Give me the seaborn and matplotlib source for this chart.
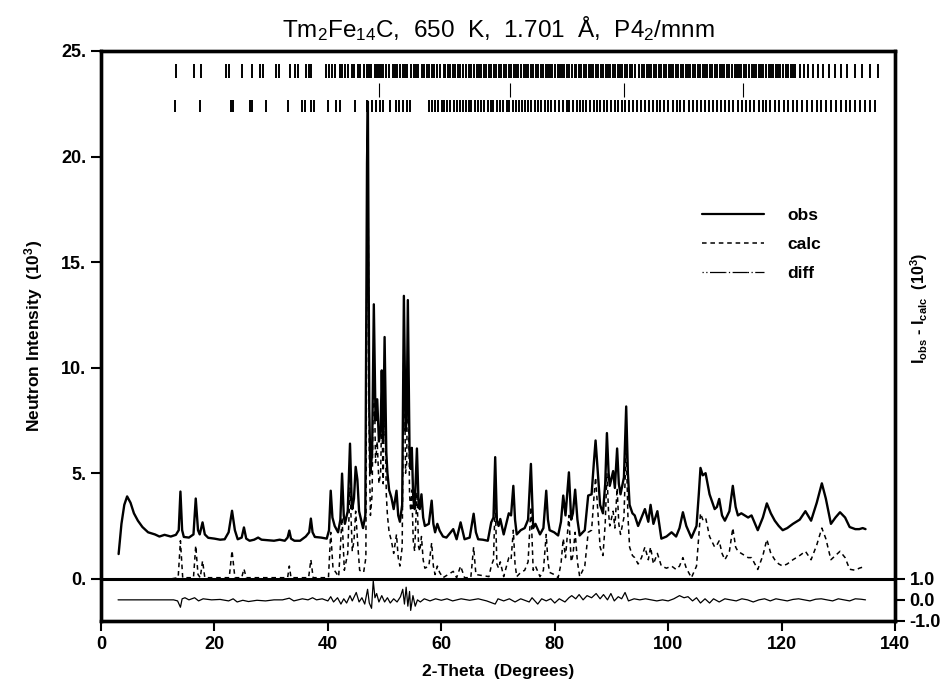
# import all modules
import numpy as np
import pandas as pd
import seaborn as sns
import matplotlib.pyplot as plt
from matplotlib.lines import Line2D

# observed pattern (2-theta, intensity in 10^3 counts)
obs_x = [3.1, 3.6, 4.1, 4.6, 5.2, 5.8, 6.5, 7.3, 8.3, 9.5, 10.3, 11.2, 12.3, 13.2, 13.7, 14.0, 14.3, 14.6,
         15.5, 16.3, 16.7, 17.1, 17.4, 17.9, 18.3, 18.9, 20.0, 21.0, 21.8, 22.5, 23.1, 23.6, 24.1, 24.8,
         25.2, 25.6, 26.2, 27.0, 27.7, 28.3, 29.5, 30.5, 31.5, 32.4, 32.9, 33.2, 33.5, 34.1, 35.1, 36.1,
         36.7, 37.0, 37.3, 37.7, 38.8, 39.8, 40.2, 40.5, 40.8, 41.2, 41.8, 42.2, 42.5, 42.8, 43.0, 43.5,
         43.9, 44.2, 44.3, 44.6, 44.9, 45.2, 45.5, 46.2, 46.6, 46.9, 47.05, 47.3, 47.5, 47.8, 48.1, 48.4,
         48.7, 49.0, 49.3, 49.5, 49.75, 50.0, 50.3, 50.5, 50.8, 51.2, 51.6, 52.1, 52.4, 52.7, 53.1, 53.4,
         53.7, 53.9, 54.1, 54.4, 54.6, 54.8, 55.05, 55.3, 55.7, 56.0, 56.2, 56.5, 56.8, 57.1, 57.8, 58.3,
         58.6, 58.9, 59.3, 59.7, 60.3, 60.9, 62.1, 62.7, 63.4, 64.1, 65.0, 65.7, 66.1, 66.5, 67.3, 68.2,
         68.8, 69.2, 69.5, 69.8, 70.1, 70.4, 71.0, 71.9, 72.3, 72.7, 73.0, 73.3, 74.0, 74.7, 75.3, 75.8,
         76.2, 76.6, 77.4, 78.0, 78.5, 78.8, 79.1, 79.9, 80.6, 81.1, 81.5, 81.9, 82.5, 82.9, 83.2, 83.6,
         84.0, 84.4, 85.3, 85.9, 86.5, 86.9, 87.2, 87.6, 88.0, 88.5, 88.9, 89.2, 89.5, 89.7, 90.3, 90.6,
         91.0, 91.3, 91.6, 92.2, 92.6, 92.9, 93.2, 93.7, 94.1, 94.7, 95.3, 95.9, 96.5, 96.9, 97.4, 98.1,
         98.8, 99.7, 100.6, 101.4, 102.0, 102.6, 103.2, 104.1, 105.0, 105.4, 105.7, 106.1, 106.6, 107.3,
         108.2, 108.6, 109.0, 109.5, 110.0, 110.8, 111.4, 111.9, 112.3, 112.9, 113.5, 114.1, 114.7, 115.8,
         116.7, 117.4, 118.1, 118.8, 119.5, 120.2, 121.0, 122.0, 123.2, 124.2, 125.2, 126.2, 127.1, 127.8,
         128.7, 129.5, 130.3, 131.2, 132.0, 133.0, 133.7, 134.3, 134.8]
obs_y = [1.17, 2.6, 3.5, 3.9, 3.6, 3.1, 2.75, 2.45, 2.2, 2.1, 2.0, 2.08, 2.0, 2.08, 2.3, 4.13, 2.3, 1.98,
         1.95, 2.1, 3.8, 2.3, 2.1, 2.67, 2.1, 1.94, 1.9, 1.85, 1.87, 2.2, 3.22, 2.3, 1.87, 1.95,
         2.43, 1.9, 1.8, 1.85, 1.95, 1.85, 1.82, 1.8, 1.85, 1.8, 1.95, 2.28, 1.9, 1.8, 1.8, 2.0,
         2.2, 2.85, 2.2, 1.98, 1.95, 1.9, 2.3, 4.17, 2.9, 2.5, 2.2, 2.8, 4.98, 3.0, 2.6, 3.2,
         6.4, 3.6, 3.3, 3.8, 5.3, 4.7, 3.2, 2.4, 3.0, 19.7, 22.6, 8.0, 5.0, 6.0, 13.0, 7.5,
         8.5, 6.5, 7.0, 9.87, 6.5, 11.45, 6.0, 5.0, 4.2, 3.85, 3.3, 4.17, 3.0, 2.7, 3.5, 13.4,
         7.0, 7.5, 13.2, 6.0, 5.2, 6.2, 3.8, 3.3, 6.17, 3.5, 3.3, 4.0, 2.9, 2.5, 2.6, 3.7,
         2.6, 2.2, 2.6, 2.28, 2.0, 1.95, 2.35, 1.87, 2.67, 1.87, 1.95, 3.08, 2.2, 1.87, 1.85, 1.8,
         2.67, 2.9, 5.76, 2.75, 2.5, 2.83, 2.1, 3.1, 3.0, 4.4, 2.8, 2.1, 2.3, 2.4, 2.8, 5.44,
         2.4, 2.6, 2.1, 2.4, 4.17, 2.8, 2.3, 2.2, 2.05, 2.7, 3.94, 3.0, 5.04, 2.8, 3.1, 4.22,
         2.8, 2.05, 2.3, 3.94, 4.0, 5.5, 6.55, 5.0, 3.5, 3.1, 4.5, 6.9, 5.0, 4.4, 5.1, 4.3,
         6.17, 4.5, 4.0, 4.8, 8.16, 5.0, 3.5, 3.1, 3.0, 2.5, 2.9, 3.3, 2.7, 3.5, 2.6, 3.2,
         1.9, 2.0, 2.2, 2.0, 2.4, 3.15, 2.5, 1.94, 2.5, 4.0, 5.25, 4.9, 5.0, 4.0,
         3.3, 3.4, 3.78, 3.0, 2.75, 3.2, 4.4, 3.4, 3.0, 3.1, 3.0, 2.9, 3.0, 2.3,
         2.9, 3.57, 3.1, 2.75, 2.5, 2.3, 2.4, 2.6, 2.8, 3.2, 2.75, 3.6, 4.52, 3.8,
         2.6, 2.9, 3.15, 2.9, 2.45, 2.35, 2.35, 2.4, 2.35]

# calculated pattern
calc_x = [12.5, 13.6, 14.0, 14.4, 16.3, 16.7, 17.1, 17.5, 17.9, 18.3, 22.6, 23.1, 23.6, 24.8, 25.2, 25.6,
          32.9, 33.2, 33.5, 36.6, 37.0, 37.4, 40.1, 40.5, 40.9, 41.9, 42.5, 42.9, 43.5, 43.9, 44.3, 44.6,
          44.9, 45.3, 45.6, 46.3, 46.7, 46.9, 47.05, 47.3, 47.5, 47.8, 48.1, 48.4, 48.7, 49.0, 49.3, 49.5,
          49.75, 50.0, 50.3, 50.5, 50.8, 51.2, 51.6, 52.1, 52.4, 52.7, 53.1, 53.4, 53.7, 53.9, 54.1, 54.4,
          54.6, 54.8, 55.05, 55.3, 55.7, 56.0, 56.2, 56.5, 56.8, 57.1, 57.8, 58.3, 58.6, 58.9, 59.3, 59.7,
          60.3, 62.1, 62.7, 63.4, 64.1, 65.2, 65.7, 66.1, 68.4, 68.8, 69.2, 69.5, 69.8, 70.1, 70.4, 71.0,
          71.9, 72.3, 72.7, 73.0, 73.3, 74.0, 74.7, 75.3, 75.8, 76.2, 76.6, 77.4, 78.0, 78.5, 78.8, 79.1,
          79.9, 80.6, 81.1, 81.5, 81.9, 82.5, 82.9, 83.2, 83.6, 84.0, 84.4, 85.3, 85.9, 86.5, 86.9, 87.2,
          87.6, 88.0, 88.5, 88.9, 89.2, 89.5, 89.7, 90.3, 90.6, 91.0, 91.3, 91.6, 92.2, 92.6, 92.9, 93.2,
          93.7, 94.1, 94.7, 95.3, 95.9, 96.5, 96.9, 97.4, 98.1, 98.8, 99.7, 100.6, 101.4, 102.0, 102.6, 103.2,
          104.1, 105.0, 105.4, 105.7, 106.1, 106.6, 107.3, 108.2, 108.6, 109.0, 109.5, 110.0, 110.8, 111.4,
          111.9, 112.3, 112.9, 113.5, 114.1, 114.7, 115.8, 116.7, 117.4, 118.1, 118.8, 119.5, 120.2, 121.0,
          122.0, 122.6, 123.2, 124.2, 125.2, 126.2, 127.1, 127.8, 128.7, 129.5, 130.3, 131.2, 132.0, 133.0,
          133.7, 134.3, 134.8]
calc_y = [0.0, 0.05, 1.8, 0.05, 0.05, 1.57, 0.2, 0.05, 0.85, 0.05, 0.05, 1.33, 0.05, 0.05, 0.47, 0.05,
          0.05, 0.6, 0.05, 0.05, 0.9, 0.05, 0.05, 2.2, 0.5, 0.1, 2.9, 0.4, 1.2, 4.3, 1.3, 1.8,
          3.2, 1.5, 0.4, 0.3, 1.0, 17.5, 20.8, 6.0, 3.0, 4.0, 11.0, 5.5, 6.5, 4.5, 5.0, 8.0,
          4.5, 9.6, 4.0, 3.0, 2.2, 1.8, 1.2, 2.1, 1.0, 0.6, 1.5, 11.5, 5.0, 5.5, 11.2, 4.0,
          3.2, 4.2, 1.8, 1.3, 4.1, 1.5, 1.3, 2.0, 0.9, 0.5, 0.6, 1.7, 0.6, 0.2, 0.6, 0.3,
          0.05, 0.35, 0.05, 0.6, 0.05, 0.05, 1.5, 0.2, 0.1, 0.6, 0.9, 3.7, 0.7, 0.5, 0.8, 0.1,
          1.0, 0.9, 2.3, 0.7, 0.1, 0.3, 0.4, 0.8, 3.4, 0.4, 0.6, 0.1, 0.4, 2.1, 0.8, 0.3,
          0.2, 0.05, 0.7, 1.9, 1.0, 3.0, 0.8, 1.1, 2.2, 0.8, 0.1, 0.6, 2.2, 2.3, 3.8, 4.8,
          3.2, 1.5, 1.1, 2.6, 5.0, 3.1, 2.5, 3.2, 2.4, 4.3, 2.6, 2.1, 2.9, 6.3, 3.0, 1.5,
          1.1, 1.0, 0.7, 1.0, 1.5, 0.9, 1.5, 0.7, 1.2, 0.6, 0.5, 0.6, 0.44, 0.6, 1.0, 0.5,
          0.05, 0.6, 2.0, 3.1, 2.8, 2.9, 2.0, 1.5, 1.6, 1.8, 1.2, 0.9, 1.3, 2.4,
          1.5, 1.3, 1.2, 1.1, 1.0, 1.0, 0.44, 1.1, 1.86, 1.2, 0.9, 0.7, 0.6, 0.7,
          0.9, 1.0, 1.1, 1.3, 0.9, 1.6, 2.4, 1.9, 0.9, 1.1, 1.3, 1.0, 0.45, 0.4,
          0.5, 0.55, 0.55]

# difference obs - calc (right axis)
diff_x = [3.0, 12.8, 13.5, 14.0, 14.3, 14.8, 15.5, 16.5, 17.2, 18.0, 19.5, 21.0, 22.5, 23.3, 24.0, 25.0,
          26.0, 27.5, 29.0, 30.5, 32.0, 33.2, 34.0, 35.5, 36.5, 37.3, 38.0, 39.0, 40.0, 40.5, 41.0, 41.7,
          42.3, 42.8, 43.3, 43.9, 44.3, 45.0, 45.5, 46.0, 46.5, 47.0, 47.3, 47.7, 48.0, 48.3, 48.6, 49.0,
          49.5, 50.0, 50.5, 51.0, 51.6, 52.2, 52.8, 53.2, 53.5, 53.8, 54.1, 54.4, 54.6, 55.0, 55.4, 55.8,
          56.3, 57.0, 58.0, 59.0, 60.0, 61.0, 62.0, 63.5, 65.0, 66.5, 68.0, 69.5, 70.0, 71.0, 72.0, 73.0,
          74.0, 75.5, 76.0, 77.0, 77.7, 78.5, 79.3, 80.0, 80.8, 81.8, 82.5, 83.0, 83.7, 84.3, 85.0, 85.7,
          86.5, 87.3, 88.0, 88.6, 89.3, 89.9, 90.5, 91.2, 91.8, 92.4, 93.0, 94.0, 95.0, 96.0, 97.0, 98.0,
          99.0, 100.0, 101.0, 102.0, 102.8, 103.5, 104.3, 105.0, 105.7, 106.5, 107.3, 108.0, 109.0, 110.0,
          111.0, 112.0, 113.0, 114.0, 115.0, 116.0, 117.0, 118.0, 119.0, 120.0, 121.0, 122.0, 123.0, 124.0,
          125.0, 126.0, 127.0, 128.0, 129.0, 130.0, 131.0, 132.0, 133.0, 134.0, 134.8]
diff_y = [0.0, 0.0, -0.05, -0.35, 0.05, 0.1, 0.0, 0.1, -0.05, 0.05, 0.0, 0.02, -0.05, 0.05, -0.1, -0.02,
          -0.08, -0.02, -0.05, 0.0, 0.0, 0.08, -0.05, 0.05, 0.0, 0.1, 0.0, 0.05, -0.05, 0.15, -0.1, 0.1,
          -0.2, 0.05, -0.15, 0.2, -0.05, 0.35, -0.1, 0.1, -0.2, 0.5, -0.15, -0.4, 0.9, 0.1, 0.3, -0.1,
          0.2, -0.1, 0.1, -0.15, 0.05, -0.1, 0.15, 0.5, -0.2, 0.6, -0.3, 0.4, -0.5, 0.2, -0.3, 0.0,
          -0.1, 0.05, -0.05, 0.05, -0.02, 0.05, -0.05, 0.05, -0.02, 0.05, -0.05, -0.2, 0.05, -0.05, 0.05, -0.1,
          0.05, -0.1, 0.1, -0.2, 0.05, -0.05, 0.05, -0.15, 0.05, -0.1, 0.1, 0.2, 0.05, 0.25, 0.0, 0.2,
          0.1, 0.3, 0.05, 0.25, 0.0, 0.3, -0.05, 0.15, 0.05, 0.35, -0.05, 0.05, 0.0, 0.05, 0.0, -0.05,
          0.0, -0.05, 0.05, 0.2, 0.1, 0.15, -0.05, 0.1, -0.15, 0.05, -0.15, 0.05, -0.1, 0.05,
          0.0, -0.05, 0.05, 0.0, -0.1, 0.0, 0.05, -0.05, 0.05, 0.0, -0.05, 0.02, 0.05, 0.0,
          -0.05, 0.03, 0.05, 0.0, -0.05, 0.05, 0.0, -0.05, 0.05, 0.03, 0.0]

# reflection markers, two phases
refl_1 = [13.3, 16.4, 17.6, 22.1, 22.6, 24.8, 26.6, 28.0, 28.6, 30.8, 31.4, 33.4, 34.2, 34.8, 36.2, 36.7,
          37.1, 39.6, 40.2, 40.8, 41.2, 42.1, 42.5, 43.0, 43.6, 44.3, 44.6, 45.3, 45.7, 46.3, 46.9, 47.2,
          47.6, 48.3, 48.7, 49.1, 49.4, 49.8, 50.3, 50.7, 51.4, 51.9, 52.2, 52.8, 53.3, 53.6, 54.0, 54.6,
          55.1, 55.5, 55.9, 56.6, 57.0, 57.4, 57.9, 58.4, 58.7, 59.3, 59.8, 60.4, 60.7, 61.2, 61.6, 62.1,
          62.5, 63.0, 63.3, 63.9, 64.4, 64.8, 65.2, 65.7, 66.3, 66.6, 67.0, 67.5, 67.9, 68.4, 68.8, 69.3,
          69.6, 70.1, 70.5, 71.0, 71.4, 71.9, 72.3, 72.8, 73.1, 73.6, 74.0, 74.5, 74.9, 75.3, 75.8, 76.2,
          76.7, 77.0, 77.5, 77.9, 78.4, 78.8, 79.1, 79.6, 80.0, 80.5, 80.9, 81.3, 81.7, 82.2, 82.6, 83.0,
          83.5, 83.8, 84.3, 84.7, 85.1, 85.6, 86.0, 86.4, 86.8, 87.3, 87.7, 88.1, 88.5, 89.0, 89.4, 89.8,
          90.2, 90.7, 91.1, 91.5, 91.9, 92.4, 92.8, 93.2, 93.7, 94.1, 94.8, 95.3, 95.7, 96.2, 96.6, 97.0,
          97.5, 97.9, 98.3, 98.8, 99.2, 99.6, 100.1, 100.5, 100.9, 101.3, 101.8, 102.2, 102.6, 103.1, 103.5,
          103.9, 104.4, 104.8, 105.2, 105.6, 106.1, 106.5, 106.9, 107.4, 107.8, 108.2, 108.7, 109.1, 109.5,
          109.9, 110.4, 110.8, 111.2, 111.7, 112.1, 112.5, 112.9, 113.4, 113.8, 114.2, 114.7, 115.1, 115.5,
          116.0, 116.4, 116.8, 117.2, 117.7, 118.1, 118.5, 119.0, 119.4, 119.8, 120.3, 120.7, 121.1, 121.6,
          122.0, 122.4, 123.2, 124.0, 124.7, 125.5, 126.4, 127.3, 128.3, 129.4, 130.5, 131.6, 132.9, 134.2,
          135.6, 137.0]
refl_2 = [13.0, 17.4, 22.9, 23.2, 26.3, 26.7, 29.1, 33.0, 35.4, 35.9, 37.1, 37.5, 40.1, 41.5, 42.1, 44.8,
          46.9, 47.7, 48.4, 49.2, 49.7, 50.9, 52.0, 52.6, 53.3, 53.9, 54.5, 57.9, 58.4, 58.9, 59.5, 60.1,
          60.5, 61.0, 61.6, 62.2, 62.7, 63.3, 63.8, 64.4, 64.8, 65.3, 65.9, 66.5, 67.0, 67.6, 68.3, 68.7,
          69.2, 69.8, 70.4, 70.9, 71.5, 72.0, 72.6, 73.1, 73.7, 74.2, 74.8, 75.3, 75.9, 76.5, 77.1, 77.6,
          78.2, 78.8, 79.4, 80.1, 80.8, 81.4, 82.1, 82.6, 83.2, 83.9, 84.5, 85.0, 85.6, 86.3, 86.9, 87.4,
          88.0, 88.7, 89.3, 89.9, 90.6, 91.2, 91.8, 92.4, 93.1, 93.8, 94.5, 95.2, 96.0, 96.7, 97.4, 98.0,
          98.6, 99.3, 100.0, 100.9, 101.5, 102.1, 102.8, 103.6, 104.3, 105.0, 105.8, 106.5, 107.2, 107.9,
          108.7, 109.4, 110.0, 110.7, 111.5, 112.3, 113.0, 113.7, 114.5, 115.2, 116.0, 116.7, 117.3, 118.0,
          118.8, 119.6, 120.4, 121.2, 122.0, 122.8, 123.6, 124.4, 125.3, 126.2, 127.0, 127.9, 128.7, 129.6,
          130.4, 131.3, 132.1, 133.0, 133.9, 134.7, 135.6, 136.4]
refl_mid = [49.1, 72.1, 92.3, 113.2]

df_obs = pd.DataFrame({'two_theta': obs_x, 'intensity': obs_y})
df_calc = pd.DataFrame({'two_theta': calc_x, 'intensity': calc_y})
df_diff = pd.DataFrame({'two_theta': diff_x, 'diff': diff_y})

sns.set_style("ticks")
plt.rcParams['font.family'] = ['Liberation Sans', 'DejaVu Sans']
plt.rcParams['mathtext.fontset'] = 'custom'
plt.rcParams['mathtext.rm'] = 'Liberation Sans'
plt.rcParams['mathtext.bf'] = 'Liberation Sans:bold'
plt.rcParams['mathtext.default'] = 'regular'
for key in ['text.color', 'axes.labelcolor', 'xtick.color', 'ytick.color', 'axes.edgecolor']:
    plt.rcParams[key] = 'black'

fig = plt.figure(figsize=(9.46, 6.86), dpi=100)
ax = fig.add_axes([0.1068, 0.0948, 0.8393, 0.8309])

sns.lineplot(data=df_obs, x='two_theta', y='intensity', ax=ax, color='black',
             linewidth=1.7, sort=False, estimator=None)
sns.lineplot(data=df_calc, x='two_theta', y='intensity', ax=ax, color='black',
             linewidth=1.1, linestyle=(0, (3, 2.5)), sort=False, estimator=None)

# zero line
ax.axhline(0, color='black', linewidth=2.2, zorder=5)

# reflection markers
ax.vlines(refl_1, 23.7, 24.4, color='black', linewidth=1.4)
ax.vlines(refl_2, 22.1, 22.7, color='black', linewidth=1.4)
ax.vlines(refl_mid, 22.8, 23.5, color='black', linewidth=0.8)

ax.set_xlim(0, 140)
ax.set_ylim(-2, 25)
ax.set_xticks([0, 20, 40, 60, 80, 100, 120, 140])
ax.set_xticklabels(['0', '20', '40', '60', '80', '100', '120', '140'])
ax.set_yticks([0, 5, 10, 15, 20, 25])
ax.set_yticklabels(['0.', '5.', '10.', '15.', '20.', '25.'])
ax.tick_params(axis='both', direction='out', length=7, width=1.5, labelsize=13)
for lab in ax.get_xticklabels() + ax.get_yticklabels():
    lab.set_fontweight('bold')
for sp in ax.spines.values():
    sp.set_linewidth(2.4)
    sp.set_visible(True)

ax.set_xlabel('2-Theta  (Degrees)', fontsize=12.5, fontweight='bold', labelpad=8)
ax.set_ylabel('Neutron Intensity  (10$^3$)', fontsize=12.5, fontweight='bold', labelpad=12)
ax.set_title('Tm$_2$Fe$_{14}$C,  650  K,  1.701  Å,  P4$_2$/mnm', fontsize=17.5, pad=10)

# difference curve on a shifted right axis
ax2 = ax.twinx()
sns.lineplot(data=df_diff, x='two_theta', y='diff', ax=ax2, color='black',
             linewidth=0.9, sort=False, estimator=None)
ax2.set_ylim(-1, 26)
ax2.set_yticks([-1, 0, 1])
ax2.set_yticklabels(['-1.0', '0.0', '1.0'])
ax2.set_ylabel('')
ax2.tick_params(axis='y', direction='out', length=7, width=1.5, labelsize=13)
for lab in ax2.get_yticklabels():
    lab.set_fontweight('bold')
for sp in ax2.spines.values():
    sp.set_linewidth(2.4)

fig.text(0.972, 0.55, 'I$_{obs}$ - I$_{calc}$  (10$^3$)', rotation=90, ha='center', va='center',
         fontsize=11.5, fontweight='bold')

# legend
handles = [Line2D([], [], color='black', linewidth=1.6),
           Line2D([], [], color='black', linewidth=1.1, linestyle=(0, (3, 2.5))),
           Line2D([], [], color='black', linewidth=0.9, linestyle=(0, (1, 2, 1, 2, 12, 0.1)))]
ax.legend(handles, ['obs', 'calc', 'diff'], loc='upper left', bbox_to_anchor=(0.737, 0.752),
          frameon=False, handlelength=3.6, handletextpad=1.3, labelspacing=0.8,
          prop={'size': 12.5, 'weight': 'bold'})

fig.savefig('out.png', dpi=100)
